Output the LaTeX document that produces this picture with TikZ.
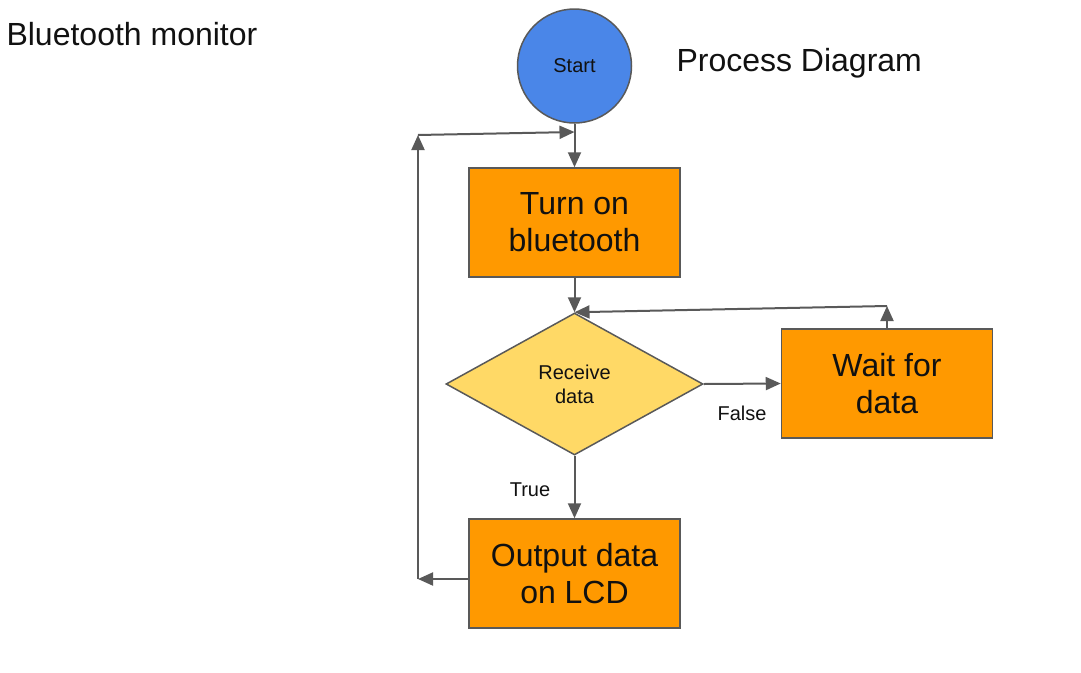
\documentclass[tikz,border=0pt]{standalone}
\usepackage{fontspec}
\setmainfont{Liberation Sans}
\usetikzlibrary{shapes.geometric,arrows.meta}
\definecolor{linegray}{HTML}{595959}
\definecolor{startblue}{HTML}{4A86E8}
\definecolor{boxorange}{HTML}{FF9900}
\definecolor{diayellow}{HTML}{FFD966}
\definecolor{txt}{HTML}{111111}
\tikzset{
  bigtext/.style={font=\fontsize{32}{37}\selectfont, text=txt},
  smalltext/.style={font=\fontsize{20}{24}\selectfont, text=txt},
  procbox/.style={rectangle, draw=linegray, line width=1.5pt, fill=boxorange,
    minimum width=211pt, minimum height=109pt, inner sep=0pt, align=center, bigtext},
  startnode/.style={circle, draw=linegray, line width=1.5pt, fill=startblue,
    minimum size=114pt, inner sep=0pt, smalltext},
  decision/.style={diamond, draw=linegray, line width=1.5pt, fill=diayellow,
    minimum width=257pt, minimum height=142pt, inner sep=0pt, align=center, smalltext},
  flowtip/.tip={Triangle[length=15pt,width=13pt]},
  flow/.style={draw=linegray, line width=2pt, -flowtip},
}
\begin{document}
\begin{tikzpicture}[x=1pt,y=-1pt]
\useasboundingbox (0,0) rectangle (1081,672);
\node[bigtext, anchor=west] (title) at (3,34) {Bluetooth monitor};
\node[bigtext, anchor=west] (ptitle) at (673,63) {Process Diagram};
\node[startnode] (start) at (574.5,66) {\raisebox{-1pt}{Start}};
\node[procbox] (bt) at (574.5,222.5) {Turn on\\bluetooth};
\node[decision] (rec) at (574.5,384) {Receive\\data};
\node[procbox] (wait) at (887,383.5) {Wait for\\data};
\node[procbox] (out) at (574.5,573.5) {Output data\\on LCD};
\node[smalltext] (tlab) at (530,490) {True};
\node[smalltext] (flab) at (742,413) {False};
\coordinate (lbot) at (418,579);
\coordinate (ltop) at (418,135);
\coordinate (ljoin) at (574.5,132);
\coordinate (wtop) at (887,306);
\draw[flow] (start.south) -- (bt.north);
\draw[flow] (bt.south) -- (rec.north);
\draw[flow] (rec.east) -- (wait.west);
\draw[flow] (rec.south) -- (out.north);
\draw[flow] (out.west |- lbot) -- (lbot);
\draw[flow] (lbot) -- (ltop);
\draw[flow] (ltop) -- (ljoin);
\draw[flow] (wait.north) -- (wtop);
\draw[flow] (wtop) -- (rec.north);
\end{tikzpicture}
\end{document}
